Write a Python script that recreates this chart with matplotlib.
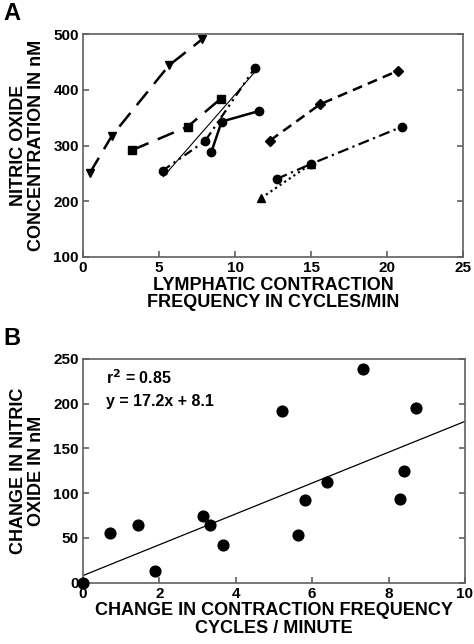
import matplotlib
matplotlib.use("Agg")
import matplotlib.pyplot as plt
import numpy as np

plt.rcParams["font.family"] = ["Liberation Sans", "DejaVu Sans"]
plt.rcParams["font.weight"] = "bold"

# panel A: NO concentration vs contraction frequency, one series per vessel
tri_down_x = [0.46, 1.89, 5.66, 7.85]
tri_down_y = [251, 317, 444, 491]
square_x = [3.25, 6.89, 9.06]
square_y = [292, 334, 384]
circ_solid_x = [8.44, 9.12, 11.58]
circ_solid_y = [288, 343, 362]
circ_dotdash_x = [5.24, 8.03, 11.32]
circ_dotdash_y = [255, 308, 440]
fit_a_x = [5.28, 11.27]
fit_a_y = [244, 431]
diamond_x = [12.30, 15.59, 20.7]
diamond_y = [309, 374, 434]
circ_dashdot_x = [12.74, 15.0, 21.0]
circ_dashdot_y = [240, 267, 334]
tri_up_x = [11.73, 15.0]
tri_up_y = [206, 267]

# panel B: change in NO vs change in frequency
dfreq = [0, 0.72, 1.43, 1.88, 3.14, 3.33, 3.66, 5.21, 5.62, 5.80, 6.40, 7.34, 8.31, 8.40, 8.73]
dno = [0, 56, 65, 13, 75, 65, 42, 192, 53, 92, 113, 238, 94, 125, 195]
slope, intercept = 17.2, 8.1

fig = plt.figure(figsize=(4.74, 6.44), dpi=100)
ax_a = fig.add_axes([0.175, 0.601, 0.802, 0.346])
ax_b = fig.add_axes([0.175, 0.095, 0.806, 0.348])

spine_col = "#606060"
k = "black"
ms = 6
ax_a.plot(tri_down_x, tri_down_y, color=k, lw=1.8, dashes=(7, 4), marker="v", ms=ms)
ax_a.plot(square_x, square_y, color=k, lw=1.8, dashes=(7, 4), marker="s", ms=ms - 0.5)
ax_a.plot(circ_solid_x, circ_solid_y, color=k, lw=1.8, marker="o", ms=ms)
ax_a.plot(circ_dotdash_x, circ_dotdash_y, color=k, lw=1.6, dashes=(4, 2, 1, 2, 1, 2), marker="o", ms=ms)
ax_a.plot(fit_a_x, fit_a_y, color=k, lw=0.8)
ax_a.plot(diamond_x, diamond_y, color=k, lw=1.8, dashes=(4, 2.5), marker="D", ms=ms - 1)
ax_a.plot(circ_dashdot_x, circ_dashdot_y, color=k, lw=1.6, dashes=(5, 2, 1, 2), marker="o", ms=ms)
ax_a.plot(tri_up_x, tri_up_y, color=k, lw=1.6, dashes=(1, 1.5), marker="^", ms=ms)

label_kw = dict(fontsize=13, fontweight="bold", linespacing=1.05)
ax_a.set_xlim(0, 25)
ax_a.set_ylim(100, 500)
ax_a.set_xticks([0, 5, 10, 15, 20, 25])
ax_a.set_yticks([100, 200, 300, 400, 500])
ax_a.set_xlabel("LYMPHATIC CONTRACTION\nFREQUENCY IN CYCLES/MIN", labelpad=1, **label_kw)
ax_a.set_ylabel("NITRIC OXIDE\nCONCENTRATION IN nM", labelpad=6, **label_kw)

ax_b.scatter(dfreq, dno, s=60, color=k, zorder=3, clip_on=False)
line_x = np.array([0, 10])
ax_b.plot(line_x, slope * line_x + intercept, color=k, lw=0.9)
ax_b.set_xlim(0, 10)
ax_b.set_ylim(0, 250)
ax_b.set_xticks([0, 2, 4, 6, 8, 10])
ax_b.set_yticks([0, 50, 100, 150, 200, 250])
ax_b.set_xlabel("CHANGE IN CONTRACTION FREQUENCY\nCYCLES / MINUTE", labelpad=1, **label_kw)
ax_b.set_ylabel("CHANGE IN NITRIC\nOXIDE IN nM", labelpad=6, **label_kw)
ax_b.text(0.06, 0.915, "r$^\\mathbf{2}$ = 0.85", transform=ax_b.transAxes, fontsize=11.5, fontweight="bold", va="center")
ax_b.text(0.06, 0.81, "y = 17.2x + 8.1", transform=ax_b.transAxes, fontsize=11.5, fontweight="bold", va="center")

for ax in (ax_a, ax_b):
    for sp in ax.spines.values():
        sp.set_color(spine_col)
        sp.set_linewidth(1.2)
    ax.tick_params(axis="both", direction="in", length=4, width=1.2, color=spine_col,
                   labelsize=11, right=True, top=False, pad=3)
    for lab in ax.get_xticklabels() + ax.get_yticklabels():
        lab.set_fontweight("bold")

fig.text(0.008, 0.997, "A", fontsize=17, fontweight="bold", va="top", ha="left")
fig.text(0.008, 0.493, "B", fontsize=17, fontweight="bold", va="top", ha="left")

fig.savefig("out.png", dpi=100)
